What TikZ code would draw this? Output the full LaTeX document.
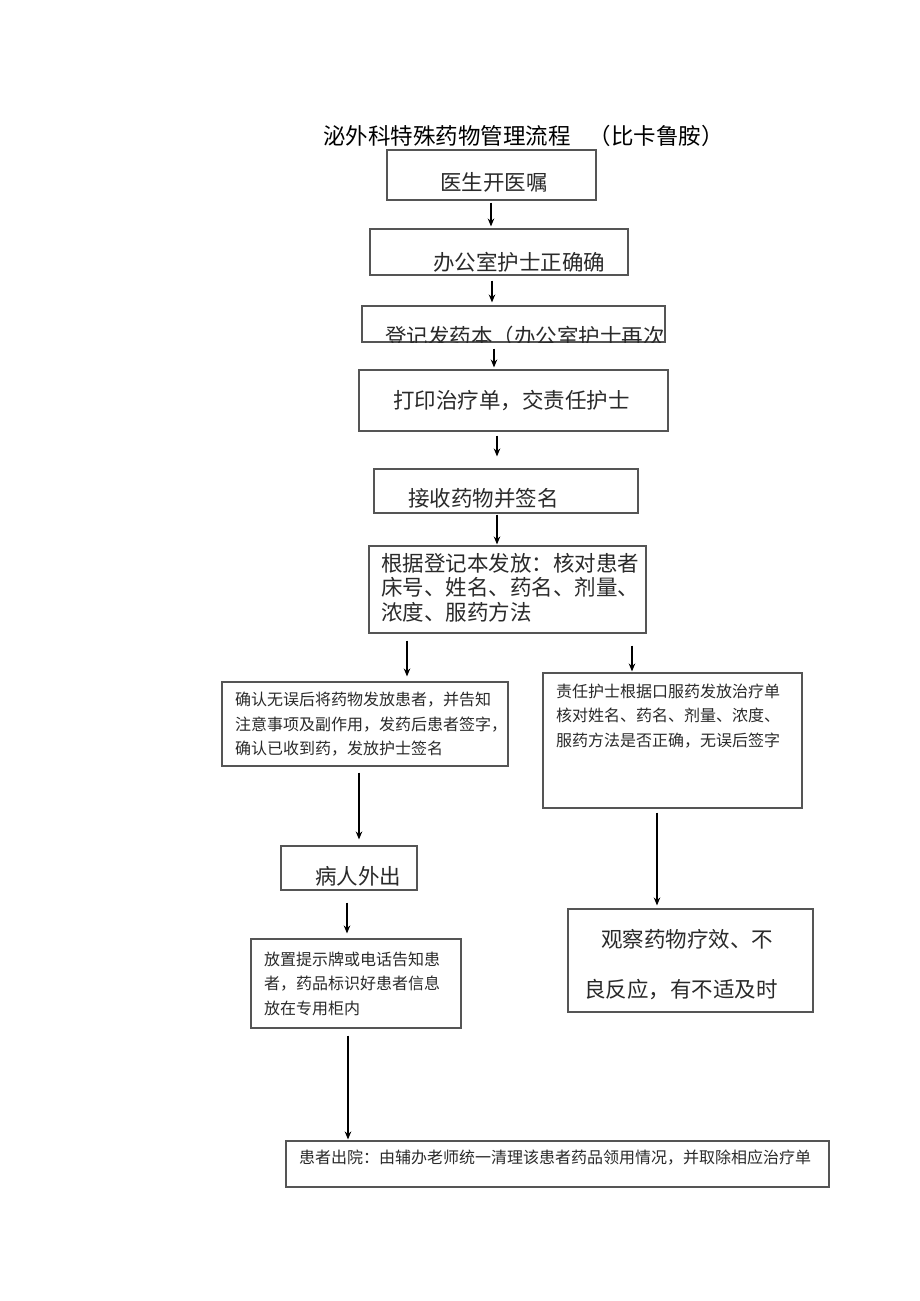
\documentclass[tikz,border=0pt]{standalone}
\usepackage{fontspec}
\setmainfont{Noto Sans CJK SC}
\usetikzlibrary{calc,arrows.meta}
\definecolor{boxgray}{HTML}{555555}
\definecolor{txtgray}{HTML}{2A2A2A}
\begin{document}
\begin{tikzpicture}[x=1pt,y=-1pt,
  box/.style={draw=boxgray, line width=1.1pt, rectangle, inner sep=0pt},
  txt/.style={inner sep=0pt, text=txtgray, align=left, anchor=west},
  big/.style={font=\fontsize{21.5}{24.5}\selectfont},
  small/.style={font=\fontsize{16}{24.5}\selectfont},
  arr/.style={-{Stealth[length=8pt,width=6.5pt]}, line width=1.3pt, black}]
\useasboundingbox (0,0) rectangle (920,1301);
\fill[white] (0,0) rectangle (920,1301);
% title
\node[inner sep=0pt, anchor=west, font=\fontsize{22.5}{24}\selectfont] (title) at (323,136) {泌外科特殊药物管理流程\hspace{0.8em}（比卡鲁胺）};
% boxes
\node[box, minimum width=209pt, minimum height=50pt] (b1) at (491.5,175) {};
\node[box, minimum width=258pt, minimum height=46pt] (b2) at (499,252) {};
\node[box, minimum width=303pt, minimum height=36pt] (b3) at (513.5,324) {};
\node[box, minimum width=309pt, minimum height=61pt] (b4) at (513.5,400.5) {};
\node[box, minimum width=264pt, minimum height=44pt] (b5) at (506,491) {};
\node[box, minimum width=277pt, minimum height=87pt] (b6) at (507.5,589.5) {};
\node[box, minimum width=286pt, minimum height=84pt] (b7) at (365,724) {};
\node[box, minimum width=259pt, minimum height=135pt] (b8) at (672.5,740.5) {};
\node[box, minimum width=136pt, minimum height=44pt] (b9) at (349,868) {};
\node[box, minimum width=210pt, minimum height=89pt] (b10) at (356,983.5) {};
\node[box, minimum width=245pt, minimum height=103pt] (b11) at (690.5,960.5) {};
\node[box, minimum width=543pt, minimum height=46pt] (b12) at (557.5,1164) {};
% texts
\node[txt, big] (t1) at (440,182) {医生开医嘱};
\node[txt, big] (t2) at (433,262) {办公室护士正确确};
\begin{scope}
  \clip (b3.north west) rectangle (b3.south east);
  \node[txt, big] (t3) at (385,336) {登记发药本（办公室护士再次};
\end{scope}
\node[txt, big] (t4) at (393,401) {打印治疗单，交责任护士};
\node[txt, big] (t5) at (408,498) {接收药物并签名};
\node[txt, big] (t6) at (381,587.5) {根据登记本发放：核对患者\\床号、姓名、药名、剂量、\\浓度、服药方法};
\node[txt, small] (t7) at (235,724.5) {确认无误后将药物发放患者，并告知\\注意事项及副作用，发药后患者签字，\\确认已收到药，发放护士签名};
\node[txt, small] (t8) at (556,716) {责任护士根据口服药发放治疗单\\核对姓名、药名、剂量、浓度、\\服药方法是否正确，无误后签字};
\node[txt, big] (t9) at (315,876) {病人外出};
\node[txt, small] (t10) at (264,983.5) {放置提示牌或电话告知患\\者，药品标识好患者信息\\放在专用柜内};
\node[txt, font=\fontsize{21.5}{50}\selectfont] (t11) at (584,965) {\hspace*{17pt}观察药物疗效、不\\良反应，有不适及时};
\node[txt, small] (t12) at (299,1158) {患者出院：由辅办老师统一清理该患者药品领用情况，并取除相应治疗单};
% arrows
\draw[arr] ($(b1.south)+(-0.5,2)$) -- ($(b2.north)+(-8,-2)$);
\draw[arr] ($(b2.south)+(-7,5)$) -- ($(b3.north)+(-21.5,-3)$);
\draw[arr] ($(b3.south)+(-19.5,6)$) -- ($(b4.north)+(-19.5,-2)$);
\draw[arr] ($(b4.south)+(-16.5,4)$) -- ($(b5.north)+(-9,-12)$);
\draw[arr] ($(b5.south)+(-9,1)$) -- ($(b6.north)+(-10.5,-1)$);
\draw[arr] ($(b6.south)+(-100.5,7)$) -- ($(b7.north)+(42,-5)$);
\draw[arr] ($(b6.south)+(124.5,12)$) -- ($(b8.north)+(-40.5,-1)$);
\draw[arr] ($(b7.south)+(-6,6)$) -- ($(b9.north)+(10,-6)$);
\draw[arr] ($(b8.south)+(-15.5,4)$) -- ($(b11.north)+(-33.5,-3)$);
\draw[arr] ($(b9.south)+(-2,12)$) -- ($(b10.north)+(-9,-5)$);
\draw[arr] ($(b10.south)+(-8,7)$) -- ($(b12.north)+(-209.5,-1)$);
\end{tikzpicture}
\end{document}
